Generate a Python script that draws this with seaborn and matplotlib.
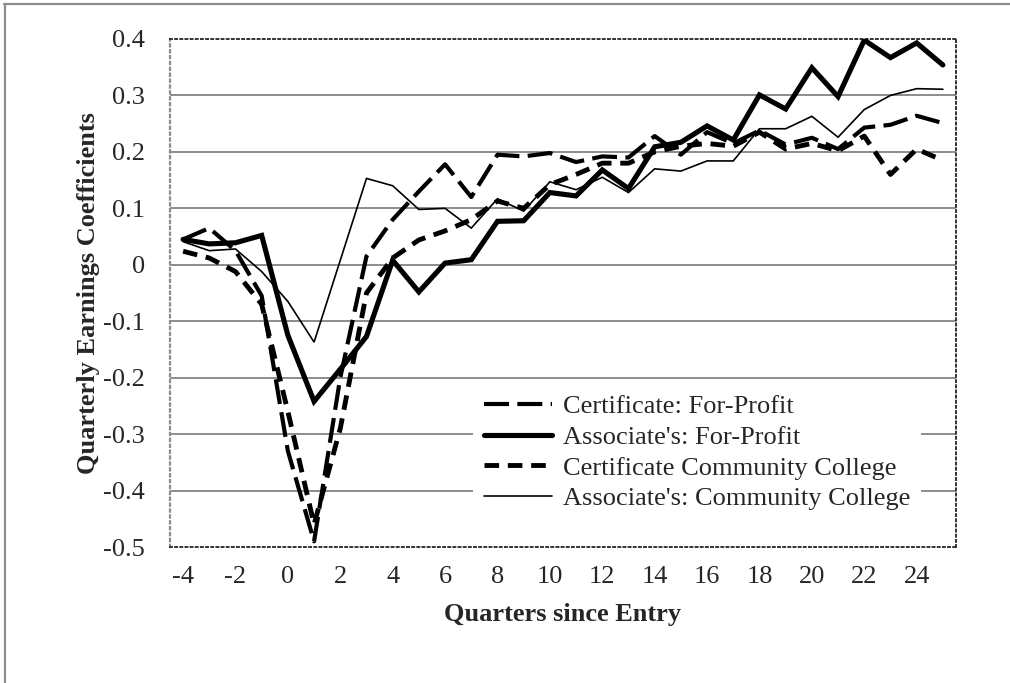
import matplotlib
matplotlib.use("Agg")
import matplotlib.pyplot as plt
from matplotlib.lines import Line2D
import seaborn as sns
import pandas as pd

# quarterly earnings coefficients
quarters = list(range(-4, 26))

cert_fp = [0.045, 0.065, 0.025, -0.055, -0.33, -0.49, -0.20, 0.015, 0.08, 0.13,
           0.178, 0.12, 0.195, 0.192, 0.198, 0.182, 0.192, 0.19, 0.228, 0.195,
           0.235, 0.215, 0.238, 0.213, 0.225, 0.205, 0.243, 0.248, 0.264, 0.251]
assoc_fp = [0.045, 0.037, 0.039, 0.052, -0.125, -0.242, -0.185, -0.127, 0.008, -0.048,
            0.003, 0.009, 0.077, 0.078, 0.128, 0.122, 0.168, 0.135, 0.209, 0.217,
            0.246, 0.221, 0.301, 0.276, 0.349, 0.298, 0.398, 0.367, 0.393, 0.354]
cert_cc = [0.024, 0.012, -0.012, -0.07, -0.26, -0.46, -0.29, -0.05, 0.012, 0.044,
           0.06, 0.08, 0.113, 0.10, 0.142, 0.16, 0.18, 0.18, 0.20, 0.21,
           0.215, 0.21, 0.235, 0.205, 0.215, 0.202, 0.228, 0.16, 0.205, 0.185]
assoc_cc = [0.041, 0.025, 0.028, -0.012, -0.065, -0.137, 0.008, 0.153, 0.14, 0.098,
            0.10, 0.065, 0.117, 0.095, 0.147, 0.133, 0.155, 0.128, 0.17, 0.166,
            0.184, 0.184, 0.241, 0.241, 0.263, 0.226, 0.275, 0.30, 0.312, 0.311]

series_names = ["Certificate: For-Profit", "Associate's: For-Profit",
                "Certificate Community College", "Associate's: Community College"]
y_ticks = [0.4, 0.3, 0.2, 0.1, 0, -0.1, -0.2, -0.3, -0.4, -0.5]
y_tick_labels = ["0.4", "0.3", "0.2", "0.1", "0", "-0.1", "-0.2", "-0.3", "-0.4", "-0.5"]
x_ticks = list(range(-4, 25, 2))

FS = 19

sns.set_style("white")
plt.rcParams["font.family"] = ["Liberation Serif", "DejaVu Serif"]

fig = plt.figure(figsize=(10.1, 6.83), dpi=100)
ax = fig.add_axes([0.1683, 0.1991, 0.7782, 0.7438])

# interior gridlines
for v in y_ticks[1:-1]:
    ax.axhline(v, color="#8c8c8c", lw=1.4, zorder=1)

styles = [
    dict(lw=3.0, dashes=(6.0, 2.0)),
    dict(lw=3.7, dashes=None),
    dict(lw=3.5, dashes=(3.0, 1.8)),
    dict(lw=1.2, dashes=None),
]
values = [cert_fp, assoc_fp, cert_cc, assoc_cc]

for name, vals, st in zip(series_names, values, styles):
    df = pd.DataFrame({"quarter": quarters, "coef": vals})
    sns.lineplot(data=df, x="quarter", y="coef", ax=ax, color="black",
                 lw=st["lw"], label=name, zorder=3)
    line = ax.lines[-1]
    if st["dashes"] is not None:
        line.set_dashes(st["dashes"])
    line.set_solid_joinstyle("miter")

ax.set_xlim(-4.5, 25.5)
ax.set_ylim(-0.5, 0.4)
ax.set_xticks(x_ticks)
ax.set_xticklabels([str(t) for t in x_ticks])
ax.set_yticks(y_ticks)
ax.set_yticklabels(y_tick_labels)
ax.tick_params(axis="x", length=0, pad=14, labelsize=FS)
ax.tick_params(axis="y", length=7, width=1.4, color="#8c8c8c", pad=11, labelsize=FS)

for side in ["top", "right", "bottom"]:
    ax.spines[side].set_linestyle(":")
    ax.spines[side].set_color("#333333")
    ax.spines[side].set_linewidth(1.4)
ax.spines["left"].set_linestyle(":")
ax.spines["left"].set_color("#8c8c8c")
ax.spines["left"].set_linewidth(1.6)

ax.set_xlabel("Quarters since Entry", fontsize=FS, fontweight="bold")
ax.set_ylabel("Quarterly Earnings Coefficients", fontsize=FS, fontweight="bold")
ax.xaxis.set_label_coords(0.5, -0.11)
ax.yaxis.set_label_coords(-0.089, 0.5)

leg = ax.legend(loc="upper left", bbox_to_anchor=(0.386, 0.32), borderaxespad=0,
                frameon=True, facecolor="white", edgecolor="none", framealpha=1,
                fontsize=FS, handlelength=2.58, handletextpad=0.42,
                labelspacing=0.27, borderpad=0.4)
leg.set_zorder(4)

# outer chart frame (top and left edges visible)
fig.add_artist(Line2D([0.004, 1.0], [0.994, 0.994], color="#8c8c8c", lw=1.6,
                      transform=fig.transFigure))
fig.add_artist(Line2D([0.0045, 0.0045], [0.0, 0.994], color="#8c8c8c", lw=1.6,
                      transform=fig.transFigure))

fig.savefig("out.png", dpi=100)
